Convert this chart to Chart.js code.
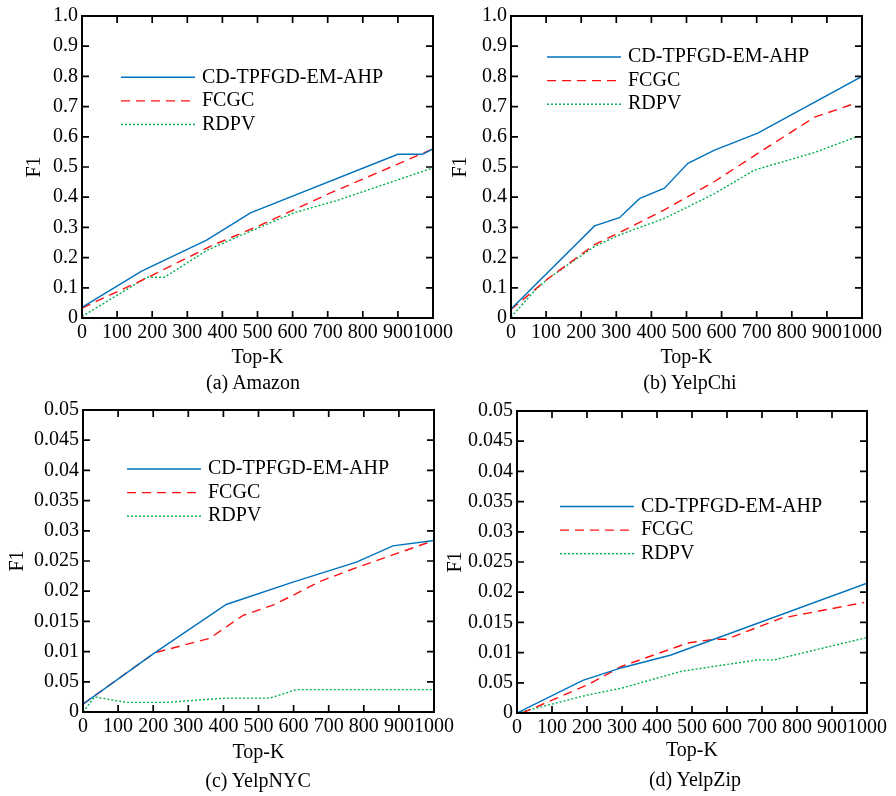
<!DOCTYPE html>
<html>
<head>
<meta charset="utf-8">
<script src="https://cdn.jsdelivr.net/npm/chart.js@4.4.1/dist/chart.umd.min.js"></script>
<style>
  html, body { margin: 0; padding: 0; background: #fff; }
  #wrap { position: relative; width: 896px; height: 796px; overflow: hidden; }
  #wrap canvas { position: absolute; left: 0; top: 0; }
  .cap { position: absolute; font: 20px/20px "Liberation Serif", "Times New Roman", serif; color: #000;
         transform: translate(-50%, -50%); white-space: nowrap; }
</style>
</head>
<body>
<div id="wrap">
  <canvas id="cA" width="896" height="796"></canvas>
  <canvas id="cB" width="896" height="796"></canvas>
  <canvas id="cC" width="896" height="796"></canvas>
  <canvas id="cD" width="896" height="796"></canvas>
  <div class="cap" style="left:253px;top:382px">(a) Amazon</div>
  <div class="cap" style="left:690px;top:382px">(b) YelpChi</div>
  <div class="cap" style="left:258px;top:780px">(c) YelpNYC</div>
  <div class="cap" style="left:695px;top:779px">(d) YelpZip</div>
</div>
<script>
// series names
const names = ['CD-TPFGD-EM-AHP', 'FCGC', 'RDPV'];

// x ticks (Top-K)
const xTicks = [0, 100, 200, 300, 400, 500, 600, 700, 800, 900, 1000];
const xLabels = ['0', '100', '200', '300', '400', '500', '600', '700', '800', '900', '1000'];

// y ticks, big panels (a,b)
const yTicksBig = [0, 0.1, 0.2, 0.3, 0.4, 0.5, 0.6, 0.7, 0.8, 0.9, 1.0];
const yLabelsBig = ['0', '0.1', '0.2', '0.3', '0.4', '0.5', '0.6', '0.7', '0.8', '0.9', '1.0'];
// y ticks, small panels (c,d) - the original prints "0.05" for the 0.005 tick
const yTicksSmall = [0, 0.005, 0.01, 0.015, 0.02, 0.025, 0.03, 0.035, 0.04, 0.045, 0.05];
const yLabelsSmall = ['0', '0.05', '0.01', '0.015', '0.02', '0.025', '0.03', '0.035', '0.04', '0.045', '0.05'];

// (a) Amazon
const amazonBlueK = [0, 170, 355, 480, 900, 970, 1000];
const amazonBlueF = [0.035, 0.155, 0.258, 0.348, 0.542, 0.542, 0.56];
const amazonRedK = [0, 180, 370, 500, 700, 970, 1000];
const amazonRedF = [0.033, 0.13, 0.24, 0.303, 0.41, 0.545, 0.56];
const amazonGreenK = [0, 185, 235, 356, 489, 603, 726, 1000];
const amazonGreenF = [0.005, 0.135, 0.135, 0.224, 0.292, 0.348, 0.389, 0.497];

// (b) YelpChi
const chiBlueK = [0, 238, 309, 366, 437, 504, 580, 703, 1000];
const chiBlueF = [0.03, 0.305, 0.332, 0.395, 0.43, 0.512, 0.556, 0.612, 0.8];
const chiRedK = [0, 105, 238, 309, 437, 504, 580, 703, 865, 984];
const chiRedF = [0.028, 0.13, 0.243, 0.283, 0.358, 0.402, 0.452, 0.545, 0.665, 0.712];
const chiGreenK = [0, 67, 105, 238, 309, 437, 504, 580, 694, 865, 984];
const chiGreenF = [0.003, 0.09, 0.13, 0.237, 0.275, 0.33, 0.368, 0.412, 0.49, 0.548, 0.6];

// (c) YelpNYC
const nycBlueK = [0, 204, 408, 598, 779, 883, 1000];
const nycBlueF = [0.0013, 0.0098, 0.0178, 0.0215, 0.0248, 0.0275, 0.0284];
const nycRedK = [0, 204, 361, 456, 541, 598, 674, 779, 1000];
const nycRedF = [0.0013, 0.0098, 0.0122, 0.016, 0.0177, 0.0193, 0.0216, 0.0239, 0.0284];
const nycGreenK = [0, 33, 123, 237, 408, 532, 608, 1000];
const nycGreenF = [0, 0.0025, 0.0016, 0.0016, 0.0023, 0.0023, 0.0037, 0.0037];

// (d) YelpZip
const zipBlueK = [0, 188, 300, 440, 1000];
const zipBlueF = [0, 0.0054, 0.0075, 0.0096, 0.0215];
const zipRedK = [15, 203, 298, 488, 564, 598, 755, 992];
const zipRedF = [0, 0.0047, 0.0077, 0.0116, 0.0122, 0.0122, 0.0157, 0.0183];
const zipGreenK = [0, 203, 298, 469, 688, 735, 1000];
const zipGreenF = [0, 0.003, 0.0041, 0.0069, 0.0088, 0.0088, 0.0125];

const serif = '"Liberation Serif", "Times New Roman", serif';
Chart.defaults.font.family = serif;
Chart.defaults.color = '#000';

const styles = [
  { borderColor: '#0072bd', borderWidth: 1.4, borderDash: [] },
  { borderColor: '#ff1010', borderWidth: 1.4, borderDash: [9, 6] },
  { borderColor: '#00b04f', borderWidth: 1.4, borderDash: [2, 2] }
];

function pts(ks, fs) {
  return ks.map((k, i) => ({ x: k, y: fs[i] }));
}

// frame with inward ticks on all sides, plus the in-plot legend
const framePlugin = {
  id: 'frame',
  afterDatasetsDraw(chart, args, opts) {
    const { ctx, chartArea: a, scales } = chart;
    const x = scales.x, y = scales.y;
    ctx.save();
    ctx.strokeStyle = '#000';
    ctx.lineWidth = 1.7;
    ctx.beginPath();
    x.ticks.forEach(t => {
      const px = x.getPixelForValue(t.value);
      ctx.moveTo(px, a.bottom); ctx.lineTo(px, a.bottom - 7);
      ctx.moveTo(px, a.top); ctx.lineTo(px, a.top + 7);
    });
    y.ticks.forEach(t => {
      const py = y.getPixelForValue(t.value);
      ctx.moveTo(a.left, py); ctx.lineTo(a.left + 7, py);
      ctx.moveTo(a.right, py); ctx.lineTo(a.right - 7, py);
    });
    ctx.stroke();
    ctx.lineWidth = 2;
    ctx.strokeRect(a.left, a.top, a.right - a.left, a.bottom - a.top);

    // legend
    const lg = opts.legend;
    ctx.font = '20px ' + serif;
    ctx.textBaseline = 'middle';
    ctx.fillStyle = '#000';
    chart.data.datasets.forEach((ds, i) => {
      const yy = lg.y + i * 23.6;
      ctx.beginPath();
      ctx.strokeStyle = ds.borderColor;
      ctx.lineWidth = ds.borderWidth;
      ctx.setLineDash(ds.borderDash);
      ctx.moveTo(lg.x, yy); ctx.lineTo(lg.x + 74, yy);
      ctx.stroke();
      ctx.setLineDash([]);
      ctx.fillText(ds.label, lg.x + 81, yy);
    });
    ctx.restore();
  }
};

function makeChart(id, p) {
  const datasets = p.series.map((s, i) => Object.assign({
    label: names[i],
    data: pts(s[0], s[1]),
    pointRadius: 0,
    tension: 0,
    fill: false
  }, styles[i]));

  return new Chart(document.getElementById(id), {
    type: 'line',
    data: { datasets },
    plugins: [framePlugin],
    options: {
      responsive: false,
      animation: false,
      devicePixelRatio: 1,
      layout: { padding: p.pad },
      plugins: {
        legend: { display: false },
        tooltip: { enabled: false },
        frame: { legend: p.legend }
      },
      scales: {
        x: {
          type: 'linear',
          min: 0, max: 1000,
          grid: { display: false, drawTicks: false },
          border: { display: false },
          afterBuildTicks: s => { s.ticks = xTicks.map(v => ({ value: v })); },
          afterFit: s => { s.height = p.xH; },
          ticks: {
            font: { size: 20 }, padding: 3, maxRotation: 0, autoSkip: false,
            callback: (v, i) => xLabels[i]
          },
          title: { display: true, text: 'Top-K', font: { size: 20 }, padding: { top: 4, bottom: 4 } }
        },
        y: {
          type: 'linear',
          min: 0, max: p.yMax,
          grid: { display: false, drawTicks: false },
          border: { display: false },
          afterBuildTicks: s => { s.ticks = p.yTicks.map(v => ({ value: v })); },
          afterFit: s => { s.width = p.yW; },
          ticks: {
            font: { size: 20 }, padding: 4, autoSkip: false,
            callback: (v, i) => p.yLabels[i]
          },
          title: { display: true, text: 'F1', font: { size: 20 }, padding: { top: 4, bottom: 4 } }
        }
      }
    }
  });
}

makeChart('cA', {
  series: [[amazonBlueK, amazonBlueF], [amazonRedK, amazonRedF], [amazonGreenK, amazonGreenF]],
  yMax: 1.0, yTicks: yTicksBig, yLabels: yLabelsBig,
  pad: { left: 19, right: 463, top: 15, bottom: 422 }, yW: 63, xH: 56,
  legend: { x: 121, y: 77.3 }
});
makeChart('cB', {
  series: [[chiBlueK, chiBlueF], [chiRedK, chiRedF], [chiGreenK, chiGreenF]],
  yMax: 1.0, yTicks: yTicksBig, yLabels: yLabelsBig,
  pad: { left: 445, right: 34, top: 15, bottom: 422 }, yW: 66, xH: 56,
  legend: { x: 547, y: 57 }
});
makeChart('cC', {
  series: [[nycBlueK, nycBlueF], [nycRedK, nycRedF], [nycGreenK, nycGreenF]],
  yMax: 0.05, yTicks: yTicksSmall, yLabels: yLabelsSmall,
  pad: { left: 2, right: 462, top: 410, bottom: 27 }, yW: 81, xH: 57,
  legend: { x: 127, y: 469 }
});
makeChart('cD', {
  series: [[zipBlueK, zipBlueF], [zipRedK, zipRedF], [zipGreenK, zipGreenF]],
  yMax: 0.05, yTicks: yTicksSmall, yLabels: yLabelsSmall,
  pad: { left: 440, right: 29, top: 411, bottom: 29 }, yW: 77, xH: 54,
  legend: { x: 560, y: 506.5 }
});
</script>
</body>
</html>
